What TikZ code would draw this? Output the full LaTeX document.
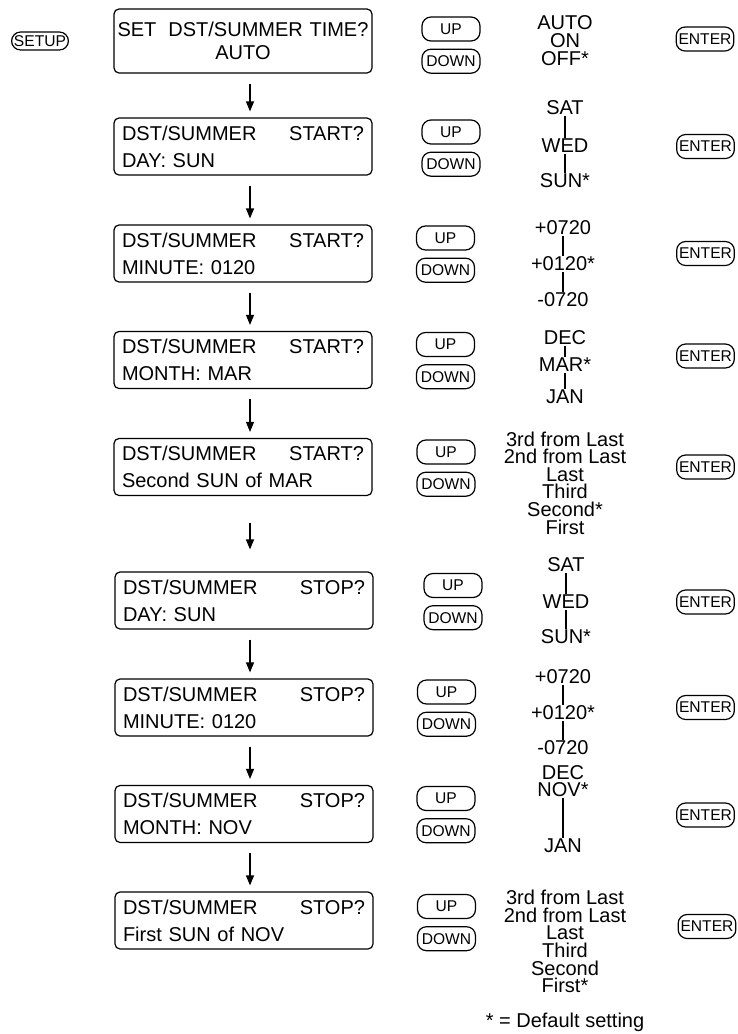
\documentclass[tikz,border=0pt]{standalone}
\usepackage{fontspec}
\setmainfont{Liberation Sans}
\usetikzlibrary{arrows.meta, positioning}

\begin{document}
\begin{tikzpicture}[
    x=0.5pt, y=-0.5pt,
    display/.style={draw, line width=0.6pt, rounded corners=2.5pt, text width=121pt, inner xsep=4pt, inner ysep=0pt, minimum height=28.5pt, align=left, font={\fontsize{10}{13.5}\selectfont}},
    button/.style={draw, line width=0.6pt, rounded corners=4.5pt, inner xsep=1.2pt, inner ysep=0pt, minimum height=12pt, font={\fontsize{7.8}{9}\selectfont}},
    updown/.style={button, minimum width=29pt},
    setting/.style={inner sep=0.5pt, align=center, font={\fontsize{10}{8.8}\selectfont}},
    arrow/.style={-{Triangle[length=5pt, width=4pt]}, line width=0.6pt, shorten <=5pt, shorten >=3pt},
    tick/.style={line width=0.6pt}
]
    \useasboundingbox (0,0) rectangle (738,1034);

    % --- 显示屏 ---
    \node [button, minimum height=9pt] (setup) at (40,41) {SETUP};
    \node [display, text width=127pt, inner xsep=1pt, minimum height=32pt, align=center, font={\fontsize{10}{11.25}\selectfont}] (dst) at (243,41) {SET\hspace{0.6em}DST/SUMMER TIME?\\AUTO};
    \node [display] (daystart) at (243,146.5) {DST/SUMMER\hfill START?\\DAY: SUN};
    \node [display] (minstart) at (243,253.5) {DST/SUMMER\hfill START?\\MINUTE: 0120};
    \node [display] (monstart) at (243,360) {DST/SUMMER\hfill START?\\MONTH: MAR};
    \node [display] (weekstart) at (243,467) {DST/SUMMER\hfill START?\\Second SUN of MAR};
    \node [display] (daystop) at (244,600.5) {DST/SUMMER\hfill STOP?\\DAY: SUN};
    \node [display] (minstop) at (244,707.5) {DST/SUMMER\hfill STOP?\\MINUTE: 0120};
    \node [display] (monstop) at (244,814) {DST/SUMMER\hfill STOP?\\MONTH: NOV};
    \node [display] (weekstop) at (244,920.5) {DST/SUMMER\hfill STOP?\\First SUN of NOV};

    % --- 按键 ---
    \node [updown] (up1) at (451,29) {UP};
    \node [updown] (down1) [below=3.5pt of up1] {DOWN};
    \node [button] (enter1) at (705,39) {ENTER};

    \node [updown] (up2) at (451,132) {UP};
    \node [updown] (down2) [below=3.5pt of up2] {DOWN};
    \node [button] (enter2) at (705.5,146.5) {ENTER};

    \node [updown] (up3) at (445.5,238) {UP};
    \node [updown] (down3) [below=3.5pt of up3] {DOWN};
    \node [button] (enter3) at (705.5,253.5) {ENTER};

    \node [updown] (up4) at (445.5,344.5) {UP};
    \node [updown] (down4) [below=3.5pt of up4] {DOWN};
    \node [button] (enter4) at (705.5,356) {ENTER};

    \node [updown] (up5) at (446,452) {UP};
    \node [updown] (down5) [below=3.5pt of up5] {DOWN};
    \node [button] (enter5) at (705.5,467) {ENTER};

    \node [updown] (up6) at (453,585.5) {UP};
    \node [updown] (down6) [below=3.5pt of up6] {DOWN};
    \node [button] (enter6) at (705.5,602) {ENTER};

    \node [updown] (up7) at (446.5,692) {UP};
    \node [updown] (down7) [below=3.5pt of up7] {DOWN};
    \node [button] (enter7) at (705.5,707.5) {ENTER};

    \node [updown] (up8) at (446,798.5) {UP};
    \node [updown] (down8) [below=3.5pt of up8] {DOWN};
    \node [button] (enter8) at (705.5,815) {ENTER};

    \node [updown] (up9) at (446.5,906.5) {UP};
    \node [updown] (down9) [below=3.5pt of up9] {DOWN};
    \node [button] (enter9) at (707,926.5) {ENTER};

    % --- 可选值 ---
    \node [setting, font={\fontsize{10}{9}\selectfont}] (mode) at (565,41) {AUTO\\ON\\OFF*};

    \node [setting] (sat1) at (565,108) {SAT};
    \node [setting] (wed1) at (565,146) {WED};
    \node [setting] (sun1) at (565,181) {SUN*};

    \node [setting] (late1) at (563,228) {+0720};
    \node [setting] (mid1) at (563,264) {+0120*};
    \node [setting] (early1) at (563,300) {-0720};

    \node [setting] (dec1) at (565,338) {DEC};
    \node [setting] (mar) at (565,365) {MAR*};
    \node [setting] (jan1) at (565,397) {JAN};

    \node [setting] (order1) at (565,483) {3rd from Last\\2nd from Last\\Last\\Third\\Second*\\First};

    \node [setting] (sat2) at (566,565) {SAT};
    \node [setting] (wed2) at (566,602) {WED};
    \node [setting] (sun2) at (566,637) {SUN*};

    \node [setting] (late2) at (563,677) {+0720};
    \node [setting] (mid2) at (563,713) {+0120*};
    \node [setting] (early2) at (563,748) {-0720};

    \node [setting] (dec2) at (563,773) {DEC};
    \node [setting] (nov) at (563,790) {NOV*};
    \node [setting] (jan2) at (563,846) {JAN};

    \node [setting] (order2) at (565,941.5) {3rd from Last\\2nd from Last\\Last\\Third\\Second\\First*};

    \node [setting] (note) at (565,1022) {* = Default setting};

    % --- 连线 ---
    \draw [arrow] ([xshift=3.5pt]dst.south) -- ([xshift=3.5pt]daystart.north);
    \draw [arrow] ([xshift=3.5pt]daystart.south) -- ([xshift=3.5pt]minstart.north);
    \draw [arrow] ([xshift=3.5pt]minstart.south) -- ([xshift=3.5pt]monstart.north);
    \draw [arrow] ([xshift=3.5pt]monstart.south) -- ([xshift=3.5pt]weekstart.north);
    \draw [arrow, shorten <=13.5pt, shorten >=11pt] ([xshift=3.5pt]weekstart.south) -- ([xshift=3pt]daystop.north);
    \draw [arrow] ([xshift=3pt]daystop.south) -- ([xshift=3pt]minstop.north);
    \draw [arrow] ([xshift=3pt]minstop.south) -- ([xshift=3pt]monstop.north);
    \draw [arrow] ([xshift=3pt]monstop.south) -- ([xshift=3pt]weekstop.north);

    \draw [tick] (sat1) -- (wed1);
    \draw [tick] (wed1) -- (sun1);
    \draw [tick] (late1) -- (mid1);
    \draw [tick] (mid1) -- (early1);
    \draw [tick] (dec1) -- (mar);
    \draw [tick] (mar) -- (jan1);
    \draw [tick] (sat2) -- (wed2);
    \draw [tick] (wed2) -- (sun2);
    \draw [tick] (late2) -- (mid2);
    \draw [tick] (mid2) -- (early2);
    \draw [tick] (nov) -- (jan2);

\end{tikzpicture}
\end{document}
